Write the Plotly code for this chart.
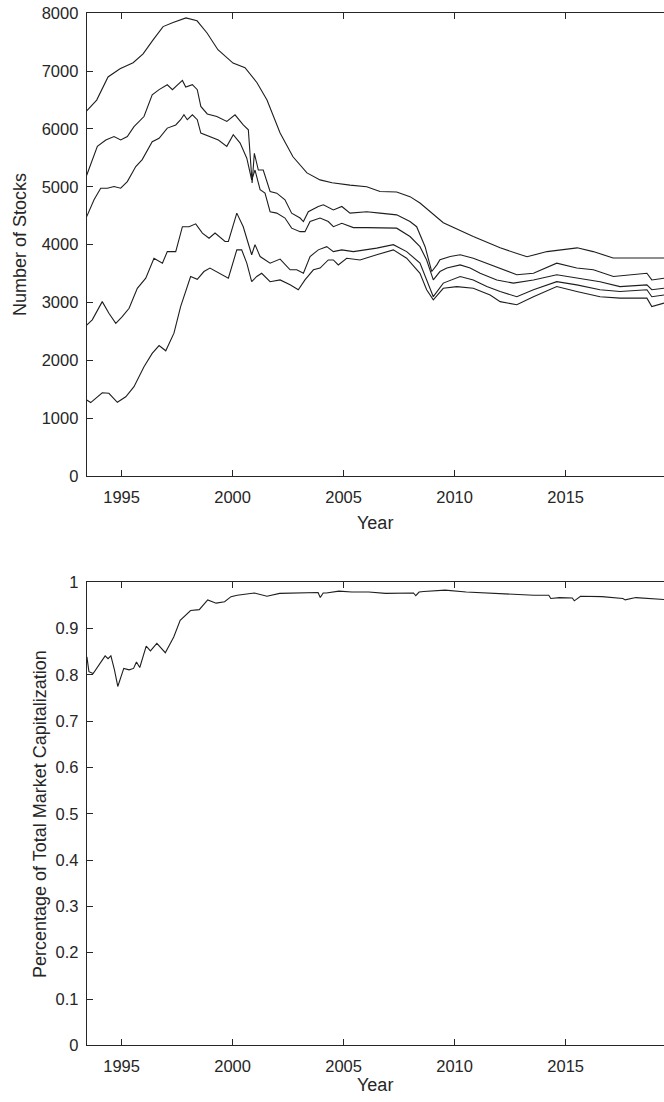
import plotly.graph_objects as go

# ---- Top panel: number of stocks (5 series) ----
s1_year = [1993.43, 1993.88, 1994.39, 1994.93, 1995.52, 1995.97, 1996.42, 1996.87, 1997.32, 1997.90,
           1998.40, 1998.85, 1999.34, 2000.02, 2000.56, 2001.10, 2001.55, 2002.14, 2002.72, 2003.35,
           2003.94, 2004.48, 2005.29, 2006.04, 2006.64, 2007.39, 2007.99, 2008.44, 2009.49, 2010.84,
           2012.05, 2013.26, 2014.16, 2015.52, 2016.24, 2017.14, 2019.43]
s1_val = [6315, 6500, 6900, 7040, 7145, 7300, 7540, 7770, 7840, 7920,
          7870, 7660, 7370, 7140, 7060, 6800, 6500, 5930, 5520, 5240,
          5120, 5070, 5030, 5000, 4920, 4910, 4830, 4720, 4380, 4140,
          3945, 3790, 3880, 3945, 3880, 3770, 3770]

s2_year = [1993.43, 1993.91, 1994.29, 1994.66, 1994.96, 1995.26, 1995.56, 1996.01, 1996.38, 1996.69,
           1997.06, 1997.29, 1997.74, 1997.89, 1998.19, 1998.41, 1998.57, 1998.86, 1999.29, 1999.74,
           2000.11, 2000.48, 2000.71, 2000.88, 2000.98, 2001.16, 2001.38, 2001.69, 2001.99, 2002.36,
           2002.66, 2003.04, 2003.19, 2003.41, 2003.86, 2004.09, 2004.54, 2004.92, 2005.29, 2006.04,
           2006.64, 2007.39, 2007.99, 2008.29, 2008.67, 2008.97, 2009.20, 2009.34, 2009.80, 2010.25,
           2010.84, 2011.45, 2012.05, 2012.80, 2013.55, 2014.60, 2015.50, 2016.25, 2017.15, 2018.05,
           2018.66, 2018.88, 2019.43]
s2_val = [5200, 5700, 5810, 5870, 5810, 5870, 6040, 6215, 6590, 6680,
          6765, 6680, 6840, 6725, 6765, 6680, 6390, 6260, 6215, 6130,
          6245, 6070, 5985, 5065, 5580, 5290, 5290, 4920, 4890, 4775,
          4545, 4460, 4400, 4570, 4660, 4690, 4600, 4660, 4545, 4570,
          4545, 4515, 4400, 4310, 3965, 3535, 3650, 3740, 3795, 3825,
          3765, 3680, 3595, 3480, 3505, 3680, 3595, 3565, 3450, 3480,
          3505, 3390, 3420]

s3_year = [1993.43, 1993.76, 1994.06, 1994.36, 1994.66, 1994.96, 1995.26, 1995.64, 1995.93, 1996.38,
           1996.69, 1997.06, 1997.44, 1997.66, 1997.81, 1997.96, 1998.19, 1998.41, 1998.57, 1998.98,
           1999.36, 1999.74, 2000.03, 2000.34, 2000.64, 2000.86, 2001.01, 2001.24, 2001.46, 2001.69,
           2001.99, 2002.36, 2002.66, 2003.04, 2003.26, 2003.49, 2003.94, 2004.31, 2004.54, 2004.92,
           2005.44, 2006.04, 2006.79, 2007.39, 2007.99, 2008.44, 2008.74, 2009.04, 2009.34, 2009.65,
           2010.25, 2010.70, 2011.15, 2011.90, 2012.65, 2013.55, 2014.60, 2015.50, 2016.55, 2017.45,
           2018.66, 2018.88, 2019.43]
s3_val = [4485, 4775, 4975, 4975, 5005, 4975, 5090, 5350, 5470, 5780,
          5840, 6015, 6070, 6160, 6245, 6160, 6245, 6160, 5930, 5870,
          5810, 5700, 5900, 5755, 5495, 5120, 5290, 4950, 4890, 4570,
          4545, 4460, 4285, 4225, 4225, 4400, 4460, 4400, 4310, 4370,
          4295, 4295, 4295, 4285, 4140, 3965, 3735, 3390, 3535, 3595,
          3650, 3595, 3505, 3390, 3335, 3390, 3480, 3420, 3360, 3275,
          3305, 3220, 3245]

s4_year = [1993.43, 1993.68, 1994.13, 1994.43, 1994.74, 1995.03, 1995.34, 1995.71, 1996.09, 1996.46,
           1996.84, 1997.06, 1997.44, 1997.74, 1998.04, 1998.34, 1998.64, 1998.94, 1999.21, 1999.66,
           1999.81, 2000.19, 2000.48, 2000.86, 2001.01, 2001.24, 2001.69, 2002.14, 2002.59, 2002.89,
           2003.19, 2003.49, 2003.86, 2004.24, 2004.54, 2004.92, 2005.44, 2006.49, 2007.24, 2007.84,
           2008.44, 2008.74, 2009.04, 2009.49, 2010.25, 2010.84, 2011.45, 2012.05, 2012.80, 2013.55,
           2014.60, 2015.50, 2016.55, 2017.45, 2018.66, 2018.88, 2019.43]
s4_val = [2610, 2700, 3015, 2815, 2640, 2755, 2900, 3245, 3420, 3765,
          3680, 3880, 3880, 4310, 4310, 4360, 4200, 4110, 4200, 4055,
          4055, 4545, 4310, 3825, 4000, 3795, 3680, 3750, 3565, 3565,
          3505, 3795, 3910, 3965, 3880, 3910, 3880, 3940, 4000, 3880,
          3680, 3390, 3100, 3335, 3450, 3390, 3275, 3190, 3100, 3220,
          3360, 3305, 3220, 3190, 3220, 3100, 3130]

s5_year = [1993.43, 1993.61, 1994.13, 1994.43, 1994.81, 1995.19, 1995.56, 1996.01, 1996.38, 1996.69,
           1996.99, 1997.36, 1997.66, 1997.96, 1998.11, 1998.41, 1998.71, 1998.98, 1999.43, 1999.81,
           2000.19, 2000.41, 2000.64, 2000.86, 2001.09, 2001.31, 2001.69, 2002.14, 2002.59, 2002.96,
           2003.26, 2003.64, 2003.94, 2004.31, 2004.54, 2004.76, 2005.14, 2005.74, 2006.49, 2007.24,
           2007.84, 2008.44, 2008.74, 2009.04, 2009.49, 2010.10, 2010.84, 2011.60, 2012.05, 2012.80,
           2013.55, 2014.60, 2015.50, 2016.55, 2017.45, 2018.66, 2018.88, 2019.43]
s5_val = [1315, 1270, 1440, 1430, 1275, 1370, 1545, 1890, 2120, 2255,
          2165, 2470, 2930, 3275, 3450, 3400, 3535, 3595, 3505, 3420,
          3910, 3910, 3680, 3360, 3450, 3505, 3360, 3390, 3305, 3220,
          3390, 3565, 3595, 3735, 3735, 3650, 3765, 3735, 3825, 3910,
          3765, 3505, 3220, 3045, 3245, 3275, 3245, 3130, 3015, 2960,
          3100, 3275, 3190, 3100, 3075, 3075, 2930, 2990]

# ---- Bottom panel: share of total market capitalization ----
cap_year = [1993.44, 1993.53, 1993.72, 1994.01, 1994.26, 1994.39, 1994.52, 1994.68, 1994.83, 1995.10,
            1995.34, 1995.54, 1995.67, 1995.82, 1996.11, 1996.30, 1996.59, 1996.97, 1997.35, 1997.64,
            1998.11, 1998.50, 1998.88, 1999.26, 1999.64, 1999.93, 2000.21, 2000.98, 2001.55, 2002.12,
            2002.89, 2003.65, 2003.85, 2003.95, 2004.08, 2004.22, 2004.79, 2005.37, 2006.13, 2006.89,
            2007.85, 2008.15, 2008.25, 2008.40, 2008.61, 2009.57, 2010.52, 2011.47, 2012.43, 2013.57,
            2014.24, 2014.33, 2014.72, 2015.30, 2015.39, 2015.67, 2016.63, 2017.58, 2017.68, 2018.16,
            2019.43]
cap_val = [0.839, 0.807, 0.803, 0.825, 0.841, 0.835, 0.841, 0.811, 0.775, 0.814,
           0.811, 0.814, 0.828, 0.816, 0.862, 0.852, 0.868, 0.848, 0.882, 0.918,
           0.939, 0.941, 0.962, 0.955, 0.958, 0.969, 0.972, 0.977, 0.970, 0.976,
           0.977, 0.979, 0.978, 0.967, 0.977, 0.977, 0.981, 0.979, 0.979, 0.976,
           0.977, 0.977, 0.971, 0.979, 0.980, 0.983, 0.979, 0.977, 0.974, 0.972,
           0.972, 0.965, 0.967, 0.966, 0.960, 0.970, 0.969, 0.965, 0.962, 0.967,
           0.963]

x_ticks = [1995, 2000, 2005, 2010, 2015]
x_range = [1993.43, 2019.43]

W, H = 664, 1102
FONT = "Liberation Sans, Arial, Helvetica, sans-serif"
AX = "#262626"
LINE = "#1e1e1e"


def px(X):
    return X / W


def py(Y):
    return 1 - Y / H


fig = go.Figure()
for xs, ys in [(s1_year, s1_val), (s2_year, s2_val), (s3_year, s3_val),
               (s4_year, s4_val), (s5_year, s5_val)]:
    fig.add_trace(go.Scatter(x=xs, y=ys, mode="lines", xaxis="x", yaxis="y",
                             line=dict(color=LINE, width=1.1), showlegend=False))
fig.add_trace(go.Scatter(x=cap_year, y=cap_val, mode="lines", xaxis="x2", yaxis="y2",
                         line=dict(color=LINE, width=1.1), showlegend=False))

xcommon = dict(range=x_range, tickvals=x_ticks, ticks="inside", ticklen=6, tickcolor=AX,
               showline=True, linecolor=AX, linewidth=1, mirror="ticks", showgrid=False,
               zeroline=False, tickfont=dict(family=FONT, size=16.5, color=AX),
               domain=[px(86.7), 1.0], ticklabelstandoff=6, automargin=False,
               ticklabeloverflow="allow")
ycommon = dict(ticks="inside", ticklen=6, tickcolor=AX, showline=True, linecolor=AX,
               linewidth=1, showgrid=False, zeroline=False, automargin=False,
               tickfont=dict(family=FONT, size=16.5, color=AX), ticklabelstandoff=4,
               ticklabeloverflow="allow")

fig.update_layout(
    template="none",
    width=W, height=H, plot_bgcolor="white", paper_bgcolor="white",
    margin=dict(l=0, r=0, t=0, b=0, pad=0, autoexpand=False),
    xaxis=dict(xcommon, anchor="y"),
    yaxis=dict(ycommon, anchor="x", domain=[py(476), py(13.3)], range=[0, 8000], dtick=1000),
    xaxis2=dict(xcommon, anchor="y2"),
    yaxis2=dict(ycommon, anchor="x2", domain=[py(1045.3), py(582.3)], range=[0, 1], dtick=0.1),
)

tfont = dict(family=FONT, size=18, color=AX)
fig.add_annotation(text="Number of Stocks", xref="paper", yref="paper", x=px(20), y=py(245),
                   textangle=-90, showarrow=False, font=tfont, xanchor="center", yanchor="middle")
fig.add_annotation(text="Year", xref="paper", yref="paper", x=px((86.7 + 664) / 2), y=py(523),
                   showarrow=False, font=tfont, xanchor="center", yanchor="middle")
fig.add_annotation(text="Percentage of Total Market Capitalization", xref="paper", yref="paper",
                   x=px(40), y=py(814), textangle=-90, showarrow=False, font=tfont,
                   xanchor="center", yanchor="middle")
fig.add_annotation(text="Year", xref="paper", yref="paper", x=px((86.7 + 664) / 2), y=py(1085),
                   showarrow=False, font=tfont, xanchor="center", yanchor="middle")

# remove the browser's default 8px page margin so the figure fills the window
fig.write_html("out.html", config={"displayModeBar": False},
               post_script="document.body.style.margin='0px';")
